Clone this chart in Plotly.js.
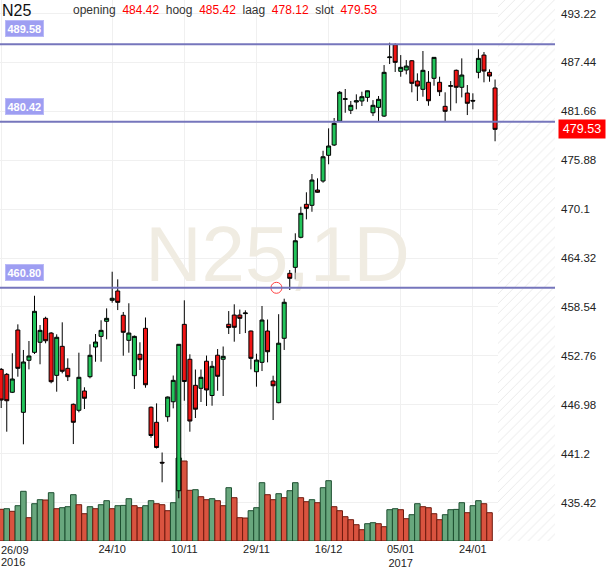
<!DOCTYPE html>
<html><head><meta charset="utf-8">
<script src="https://cdn.plot.ly/plotly-3.0.1.min.js"></script>
<style>html,body{margin:0;padding:0;background:#fff}#chart{width:610px;height:568px}</style>
</head><body><div id="chart"></div>
<script>
const symbol = 'N25';
const interval = '1D';
const dates = [
'2016-09-26','2016-09-27','2016-09-28','2016-09-29','2016-09-30',
'2016-10-03','2016-10-04','2016-10-05','2016-10-06','2016-10-07',
'2016-10-10','2016-10-11','2016-10-12','2016-10-13','2016-10-14',
'2016-10-17','2016-10-18','2016-10-19','2016-10-20','2016-10-21',
'2016-10-24','2016-10-25','2016-10-26','2016-10-27','2016-10-28',
'2016-10-31','2016-11-01','2016-11-02','2016-11-03','2016-11-04',
'2016-11-07','2016-11-08','2016-11-09','2016-11-10','2016-11-11',
'2016-11-14','2016-11-15','2016-11-16','2016-11-17','2016-11-18',
'2016-11-21','2016-11-22','2016-11-23','2016-11-24','2016-11-25',
'2016-11-28','2016-11-29','2016-11-30','2016-12-01','2016-12-02',
'2016-12-05','2016-12-06','2016-12-07','2016-12-08','2016-12-09',
'2016-12-12','2016-12-13','2016-12-14','2016-12-15','2016-12-16',
'2016-12-19','2016-12-20','2016-12-21','2016-12-22','2016-12-23',
'2016-12-27','2016-12-28','2016-12-29','2016-12-30',
'2017-01-02','2017-01-03','2017-01-04','2017-01-05','2017-01-06',
'2017-01-09','2017-01-10','2017-01-11','2017-01-12','2017-01-13',
'2017-01-16','2017-01-17','2017-01-18','2017-01-19','2017-01-20',
'2017-01-23','2017-01-24','2017-01-25','2017-01-26','2017-01-27',
'2017-01-30'];
const openP = [451.16,450.57,448.45,455.81,446.08,452.23,453.17,454.36,457.19,455.45,
450.45,453.88,451.28,447.03,446.32,448.60,450.29,453.80,455.06,456.84,
459.32,460.42,457.55,454.59,450.41,452.94,456.01,446.68,444.90,440.17,
445.56,447.33,436.81,456.48,452.35,449.27,448.92,452.12,448.07,452.83,
452.35,456.49,457.58,457.58,457.75,455.69,450.88,451.99,455.69,449.78,
447.22,454.83,462.51,463.22,466.77,470.67,470.55,472.36,473.42,476.46,
477.68,480.51,483.08,481.78,482.76,482.88,483.31,481.49,482.13,481.10,
488.01,489.53,486.39,486.54,487.64,485.24,484.26,485.09,485.56,485.09,
482.25,484.62,486.51,484.50,483.82,482.95,486.27,488.31,486.27,484.42];
const highP = [451.32,450.73,453.06,456.48,453.45,454.51,459.86,456.40,457.38,455.57,
455.30,456.72,452.46,447.12,453.13,449.04,454.12,455.34,456.96,458.37,
462.70,461.80,457.94,458.97,455.16,454.36,457.29,446.77,447.14,441.33,
447.95,450.43,454.15,459.32,452.94,451.14,451.14,452.79,452.15,453.56,
453.86,458.05,458.85,458.23,458.14,455.75,453.01,458.65,457.05,450.41,
457.68,459.51,462.90,467.24,470.38,472.09,474.25,473.74,477.00,479.65,
480.87,484.06,484.30,482.88,483.67,483.98,484.12,482.99,483.47,487.13,
489.77,489.70,488.31,487.72,487.72,486.15,488.79,486.42,488.08,485.75,
483.91,485.24,486.60,487.92,484.77,483.79,488.99,488.67,486.62,485.42];
const lowP = [446.59,443.79,448.36,450.29,442.30,451.16,452.97,451.76,454.24,449.51,
448.52,450.69,449.78,442.33,446.08,446.47,450.10,452.06,452.06,454.71,
459.04,458.17,452.77,453.13,448.84,451.08,448.99,443.08,441.80,437.81,
444.97,446.55,435.92,447.45,443.79,445.41,447.30,446.83,446.86,448.63,
448.01,455.34,454.43,455.34,455.45,451.16,449.11,450.96,451.99,445.17,
447.15,453.45,460.54,461.80,466.65,468.89,469.79,472.03,473.22,475.40,
477.56,480.43,481.49,481.34,481.90,482.29,482.79,481.10,480.43,480.99,
487.25,486.31,485.75,486.03,483.91,482.88,483.39,482.32,484.69,483.47,
480.43,481.73,482.61,483.31,481.22,481.90,485.56,485.09,485.16,478.12];
const closeP = [447.53,447.45,450.02,451.28,452.03,452.74,458.02,455.77,454.54,449.70,
454.95,450.93,450.29,444.90,450.22,447.74,452.82,454.39,455.77,457.19,
459.56,459.08,455.54,455.45,455.06,452.30,449.34,443.34,441.92,440.09,
447.89,449.86,454.12,449.72,445.05,446.45,450.22,448.72,451.52,450.34,
452.70,456.10,456.13,457.19,457.82,452.46,452.26,456.99,453.24,449.22,
454.25,459.09,461.92,466.36,469.60,470.19,473.54,472.09,476.29,477.56,
480.24,483.91,483.14,482.37,482.91,483.39,484.09,482.37,483.08,486.27,
488.08,487.45,486.86,487.01,484.97,484.65,486.51,482.91,488.04,483.98,
481.66,484.69,484.50,485.95,482.61,482.88,487.92,486.42,485.83,479.53];
const volume = [31.7,32.3,29.7,35.3,49.7,23.3,37.3,41.3,41.0,48.3,
32.3,33.3,34.3,46.3,36.3,27.3,34.3,32.3,36.3,40.3,
32.3,35.3,35.6,42.3,35.3,33.3,35.3,40.3,37.3,36.3,
30.3,38.3,83.0,80.0,50.7,51.3,44.3,41.3,42.3,40.3,
35.3,53.3,43.3,23.3,23.0,30.3,33.3,58.3,46.3,41.3,
47.3,43.3,50.3,58.3,43.3,39.3,41.3,38.3,53.3,60.3,
34.3,30.3,24.3,21.3,16.3,11.3,17.3,18.3,17.3,14.3,
31.3,32.3,31.3,22.3,26.3,37.3,34.3,33.3,27.3,21.3,
26.3,31.3,31.6,38.3,28.3,35.3,40.3,37.3,28.3,null];
const levels = [489.58, 480.42, 460.80];
const priceTicks = [435.42,441.2,446.98,452.76,458.54,464.32,470.1,475.88,481.66,487.44,493.22];
const priceTickText = ['435.42','441.2','446.98','452.76','458.54','464.32','470.1','475.88','481.66','487.44','493.22'];
const dateTickDates = ['2016-09-26','2016-10-24','2016-11-10','2016-11-29','2016-12-16','2017-01-05','2017-01-24'];
const dateTickText = ['26/09<br>2016','24/10','10/11','29/11','16/12','05/01<br>2017','24/01'];
const alertX = [49.6];
const alertY = [460.80];
const quoteLabels = ['opening','hoog','laag','slot'];

const FONT = '"Liberation Sans", Arial, sans-serif';
const n = dates.length;
const idx = dates.map((d, i) => i);
const last = n - 1;
const xRange = [-0.216, 99.8];
const yRange = [430.87, 494.82];
const volRange = [0, 541];

const volUp = volume.map((v, i) => i > 0 && v > volume[i - 1]);
const volFill = volUp.map(u => u ? '#68a77d' : '#d9533f');
const volLine = volUp.map(u => u ? '#1d4f30' : '#6e1a0e');

const tickIdx = dateTickDates.map(d => dates.indexOf(d));
const tickTextAxis = dateTickText.map((t, k) => tickIdx[k] === 0 ? '' : t);

const futStart = n - 0.5;
const traces = [
  { type: 'bar', x: [(futStart + xRange[1]) / 2], y: [volRange[1]], width: [xRange[1] - futStart],
    xaxis: 'x', yaxis: 'y', hoverinfo: 'skip', showlegend: false,
    marker: { color: '#ffffff', line: { width: 0 },
      pattern: { shape: '/', fgcolor: '#e6e6e6', bgcolor: '#ffffff', size: 7, solidity: 0.12 } } },
  { type: 'bar', x: idx, y: volume, width: 1, xaxis: 'x', yaxis: 'y', showlegend: false,
    marker: { color: volFill, line: { color: volLine, width: 1 } } },
  { type: 'scatter', mode: 'text', x: [(xRange[0] + xRange[1]) / 2],
    y: [yRange[1] - (yRange[1] - yRange[0]) * 0.484], text: [symbol + ',' + interval],
    textfont: { family: FONT, size: 78, color: '#f0ece2' }, textposition: 'middle center',
    xaxis: 'x', yaxis: 'y2', hoverinfo: 'skip', showlegend: false },
  { type: 'candlestick', x: idx, open: openP, high: highP, low: lowP, close: closeP,
    xaxis: 'x', yaxis: 'y2', showlegend: false, whiskerwidth: 0,
    increasing: { fillcolor: '#22c45a', line: { color: '#000000', width: 1 } },
    decreasing: { fillcolor: '#f01414', line: { color: '#000000', width: 1 } } },
  { type: 'scatter', mode: 'markers', x: alertX, y: alertY, xaxis: 'x', yaxis: 'y2', showlegend: false,
    marker: { symbol: 'circle-open', size: 11, color: '#ff4040', line: { width: 1, color: '#ff4040' } } }
];

const shapes = levels.map(l => ({ type: 'line', xref: 'paper', x0: 0, x1: 1, yref: 'y2', y0: l, y1: l,
  line: { color: '#7676bc', width: 2 }, layer: 'above' }));

const annotations = [];
levels.forEach(l => annotations.push({ xref: 'paper', x: 0.009, xanchor: 'left', yref: 'y2', y: l,
  yanchor: 'bottom', yshift: 7, showarrow: false, text: '<b>' + l.toFixed(2) + '</b>',
  font: { family: FONT, size: 11, color: '#ffffff' }, bgcolor: '#9e9ef2', bordercolor: '#b9b9f7',
  borderwidth: 1, borderpad: 1.5 }));
annotations.push({ xref: 'paper', x: 1, xanchor: 'left', xshift: 3, yref: 'y2', y: closeP[last],
  showarrow: false, text: closeP[last].toFixed(2), font: { family: FONT, size: 12.5, color: '#ffffff' },
  bgcolor: '#ff0000', borderpad: 2, width: 42 });
annotations.push({ xref: 'paper', x: 0, xanchor: 'left', yref: 'paper', y: 1, yanchor: 'top', yshift: 0,
  showarrow: false, text: symbol, font: { family: FONT, size: 16, color: '#111111' } });
const vals = [openP[last], highP[last], lowP[last], closeP[last]];
const sp = '&nbsp;&nbsp;';
const quote = quoteLabels.map((q, k) => q + sp + '<span style="color:#ff0000">' + vals[k].toFixed(2) + '</span>').join(sp);
annotations.push({ xref: 'paper', x: 71 / 555, xanchor: 'left', yref: 'paper', y: 1, yanchor: 'top', yshift: -1,
  showarrow: false, text: quote, font: { family: FONT, size: 12, color: '#333333' } });
const firstParts = dateTickText[tickIdx.indexOf(0)].split('<br>');
firstParts.forEach((p, k) => annotations.push({ xref: 'paper', x: 0, xanchor: 'left', yref: 'paper', y: 0,
  yanchor: 'top', yshift: -2 - k * 12, showarrow: false, borderpad: 0, text: p,
  font: { family: FONT, size: 11, color: '#222222' } }));

const layout = {
  width: 610, height: 568, margin: { l: 0, r: 55, t: 0, b: 27 },
  paper_bgcolor: '#ffffff', plot_bgcolor: '#ffffff', showlegend: false,
  barmode: 'overlay', bargap: 0, boxgap: 0.15, boxgroupgap: 0.15,
  xaxis: { type: 'linear', range: xRange, tickvals: tickIdx, ticktext: tickTextAxis,
    showgrid: true, gridcolor: '#f0f0f0', zeroline: false, showline: false, ticks: '',
    tickfont: { family: FONT, size: 11, color: '#222222' }, rangeslider: { visible: false }, fixedrange: true },
  yaxis: { range: volRange, visible: false, showgrid: false, fixedrange: true },
  yaxis2: { overlaying: 'y', side: 'right', range: yRange, tickvals: priceTicks, ticktext: priceTickText,
    showgrid: true, gridcolor: '#f0f0f0', zeroline: false, showline: false, ticks: '',
    ticklabelstandoff: 5, tickfont: { family: FONT, size: 11.5, color: '#222222' }, fixedrange: true },
  shapes: shapes, annotations: annotations
};
Plotly.newPlot('chart', traces, layout, { displayModeBar: false, staticPlot: true });
</script></body></html>
